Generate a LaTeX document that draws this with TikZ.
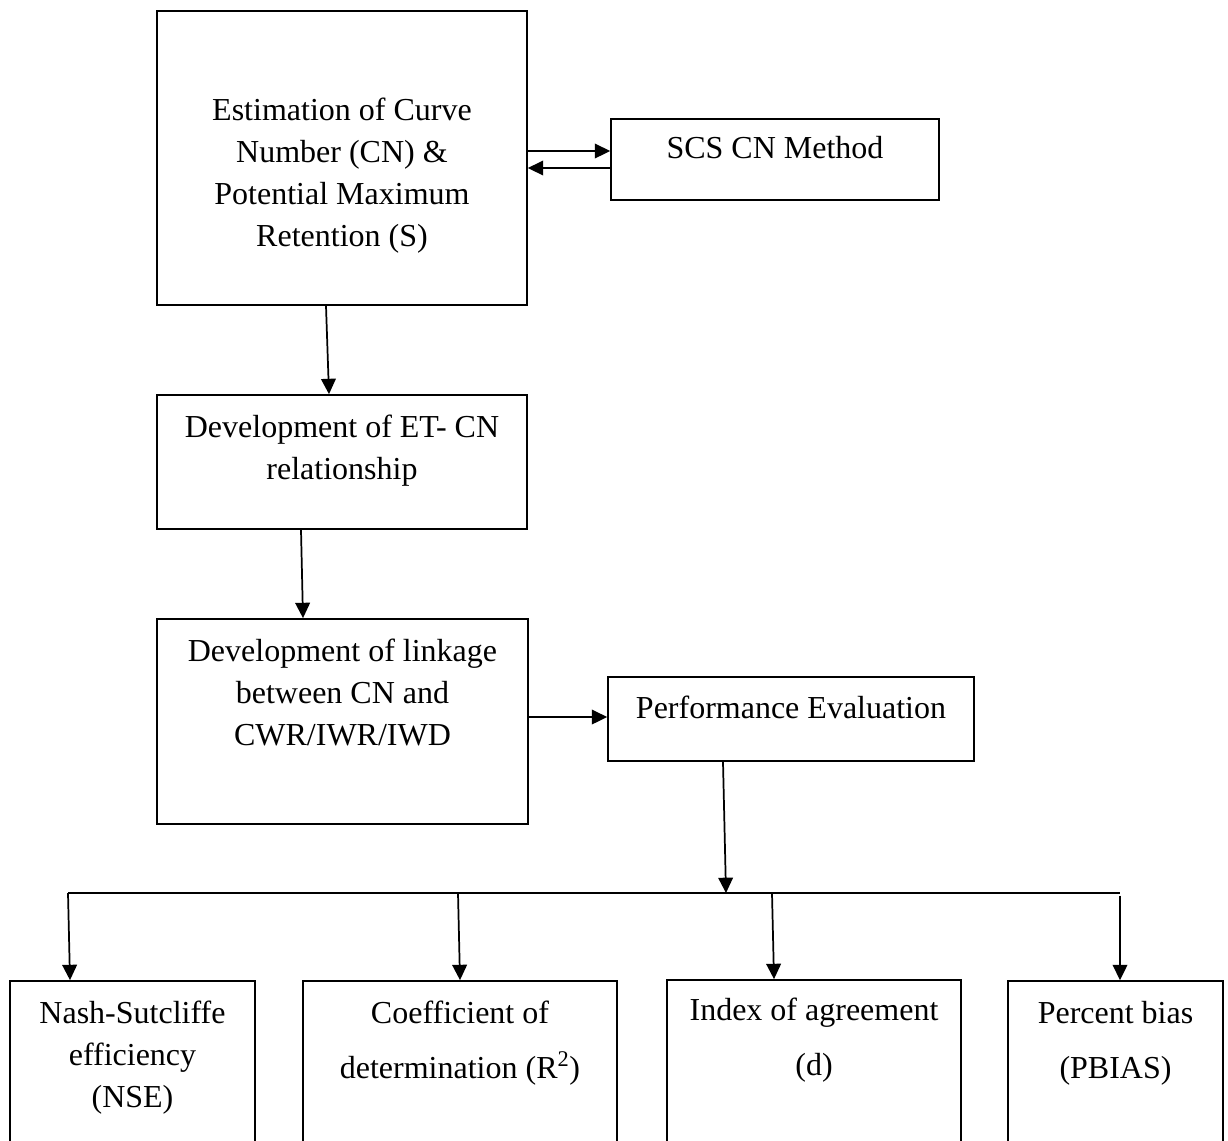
\documentclass[tikz,border=0pt]{standalone}
\usepackage{fontspec}
\setmainfont{Liberation Serif}
\usetikzlibrary{arrows.meta}

\tikzset{every picture/.style={line width=1.3pt}}
\tikzset{
  box/.style={draw, inner sep=0pt},
  txt/.style={align=center, inner sep=0pt, font=\fontsize{24}{31.5}\selectfont},
  widetxt/.style={txt, font=\fontsize{24}{41}\selectfont},
  arr/.style={-{Triangle[length=11.5pt,width=11pt]}},
}

\begin{document}
\begin{tikzpicture}[x=0.75pt,y=0.75pt,yscale=-1,xscale=1]
\path[use as bounding box] (0,0) rectangle (1228,1140);
\clip (0,0) rectangle (1228,1140);

%Shape: Rectangle [estimation of CN and S]
\node[box, minimum width=370*0.75pt, minimum height=294*0.75pt] (est) at (342,158) {};
%Shape: Rectangle [SCS CN]
\node[box, minimum width=328*0.75pt, minimum height=81*0.75pt] (scs) at (775,159.5) {};
%Shape: Rectangle [ET-CN]
\node[box, minimum width=370*0.75pt, minimum height=134*0.75pt] (et) at (342,462) {};
%Shape: Rectangle [linkage]
\node[box, minimum width=371*0.75pt, minimum height=205*0.75pt] (link) at (342.5,721.5) {};
%Shape: Rectangle [performance]
\node[box, minimum width=366*0.75pt, minimum height=84*0.75pt] (pe) at (791,719) {};

%Shape: Rectangle [indices, run past the lower edge]
\node[box, minimum width=245*0.75pt, minimum height=189*0.75pt] (nse) at (132.5,1075.5) {};
\node[box, minimum width=314*0.75pt, minimum height=189*0.75pt] (coef) at (460,1075.5) {};
\node[box, minimum width=294*0.75pt, minimum height=190*0.75pt] (idx) at (814,1075) {};
\node[box, minimum width=215*0.75pt, minimum height=189*0.75pt] (pb) at (1115.5,1075.5) {};

%Straight Lines [to and from SCS]
\draw[arr] (est.east |- 0,151) -- (scs.west |- 0,151);
\draw[arr] (scs.west |- 0,168) -- (est.east |- 0,168);
%Straight Lines [down the left column]
\draw[arr] (est.south -| 326,0) -- (et.north -| 329,0);
\draw[arr] (et.south -| 301,0) -- (link.north -| 303,0);
\draw[arr] (link.east |- 0,717) -- (pe.west |- 0,717);

%Straight Lines [bus to the indices]
\coordinate (busL) at (68,893);
\coordinate (busR) at (1120,893);
\coordinate (busJ) at (726,893);
\draw (busL) -- (busR);
\draw[arr] (pe.south -| 723,0) -- (busJ);
\draw[arr] (busL) -- (nse.north -| 70,0);
\draw[arr] (busL -| 458,0) -- (coef.north -| 460,0);
\draw[arr] (busL -| 772,0) -- (idx.north -| 774,0);
\draw[arr] ([yshift=2pt]busR) -- (pb.north -| busR);

% Text Node
\node[txt] (estT) at (342,176) {Estimation of Curve\\Number (CN) \&\\Potential Maximum\\Retention (S)};
% Text Node
\node[txt] (scsT) at (775,148) {SCS CN Method};
% Text Node
\node[txt] (etT) at (342,451) {Development of ET- CN\\relationship};
% Text Node
\node[txt] (linkT) at (342.5,692) {Development of linkage\\between CN and\\CWR/IWR/IWD};
% Text Node
\node[txt] (peT) at (791,707) {Performance Evaluation};
% Text Node
\node[txt] (nseT) at (132.5,1058) {Nash-Sutcliffe\\efficiency\\(NSE)};
% Text Node
\node[widetxt] (coefT) at (460,1043) {Coefficient of\\determination (R\textsuperscript{2})};
% Text Node
\node[widetxt] (idxT) at (814,1040) {Index of agreement\\(d)};
% Text Node
\node[widetxt] (pbT) at (1115.5,1043) {Percent bias\\(PBIAS)};

\end{tikzpicture}
\end{document}
